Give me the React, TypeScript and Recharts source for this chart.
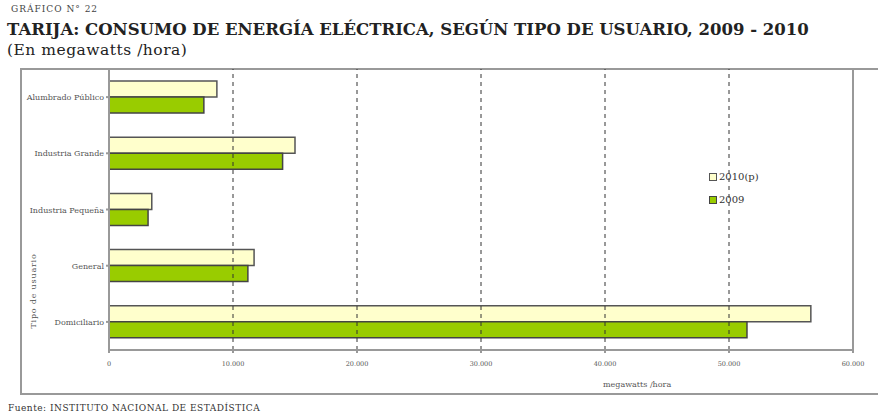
import React from "react";
import {
  BarChart,
  Bar,
  XAxis,
  YAxis,
  ReferenceLine,
} from "recharts";

const categorias = [
  "Alumbrado Público",
  "Industria Grande",
  "Industria Pequeña",
  "General",
  "Domiciliario",
];
const valores2010 = [8700, 15000, 3450, 11700, 56600];
const valores2009 = [7650, 14000, 3150, 11200, 51450];
const ticksX = [0, 10000, 20000, 30000, 40000, 50000, 60000];
const lineasGuia = [10000, 20000, 30000, 40000, 50000];

const data = categorias.map((c, i) => ({
  name: c,
  v2010: valores2010[i],
  v2009: valores2009[i],
}));

const fmt = (v: number) => (v === 0 ? "0" : v.toLocaleString("de-DE"));

const serif = "'DejaVu Serif', 'Liberation Serif', serif";

const CategoriaTick = ({ x, y, payload }: any) => (
  <text
    x={x}
    y={y}
    dy={3}
    textAnchor="end"
    fontSize={8}
    fill="#555"
    fontFamily={serif}
  >
    {payload.value}
  </text>
);

export default function App() {
  return (
    <div
      style={{
        position: "absolute",
        left: 0,
        top: 0,
        width: 878,
        height: 419,
        background: "#fff",
        fontFamily: serif,
        overflow: "hidden",
      }}
    >
      <div
        style={{
          position: "absolute",
          left: 11,
          top: 4,
          fontSize: 9,
          letterSpacing: 1,
          color: "#444",
        }}
      >
        GRÁFICO N° 22
      </div>
      <div
        style={{
          position: "absolute",
          left: 7,
          top: 20,
          fontSize: 16.5,
          fontWeight: "bold",
          color: "#222",
          whiteSpace: "nowrap",
        }}
      >
        TARIJA: CONSUMO DE ENERGÍA ELÉCTRICA, SEGÚN TIPO DE USUARIO, 2009 - 2010
      </div>
      <div
        style={{
          position: "absolute",
          left: 7,
          top: 41,
          fontSize: 15.5,
          letterSpacing: 0.5,
          color: "#222",
        }}
      >
        (En megawatts /hora)
      </div>

      <div
        style={{
          position: "absolute",
          left: 20,
          top: 68,
          width: 870,
          height: 323,
          borderTop: "2px solid #999",
          borderLeft: "2px solid #999",
          borderBottom: "2px solid #999",
        }}
      />

      <div style={{ position: "absolute", left: 20, top: 69 }}>
        <BarChart
          width={858}
          height={324}
          data={data}
          layout="vertical"
          margin={{ top: 0, right: 25, bottom: 23, left: 0 }}
          barGap={0}
          barSize={16}
        >
          <XAxis
            type="number"
            domain={[0, 60000]}
            ticks={ticksX}
            tickFormatter={fmt}
            stroke="#999"
            strokeWidth={2}
            tickSize={3}
            tickMargin={8}
            tick={{ fontSize: 6.5, fill: "#555", fontFamily: serif }}
            height={20}
          />
          <YAxis
            type="category"
            dataKey="name"
            width={89}
            stroke="#999"
            strokeWidth={2}
            tickSize={3}
            tick={<CategoriaTick />}
          />
          {lineasGuia.map((v) => (
            <ReferenceLine key={v} x={v} stroke="#333" strokeDasharray="4 4" />
          ))}
          <ReferenceLine x={60000} stroke="#999" strokeWidth={2} />
          <Bar
            dataKey="v2010"
            fill="#FFFFCC"
            stroke="#555"
            strokeWidth={1.5}
            isAnimationActive={false}
          />
          <Bar
            dataKey="v2009"
            fill="#99CC00"
            stroke="#444"
            strokeWidth={1.5}
            isAnimationActive={false}
          />
        </BarChart>
      </div>

      <div
        style={{
          position: "absolute",
          left: 33,
          top: 291,
          transform: "translate(-50%, -50%) rotate(-90deg)",
          fontSize: 8,
          letterSpacing: 0.8,
          color: "#555",
          whiteSpace: "nowrap",
        }}
      >
        Tipo de usuario
      </div>
      <div
        style={{
          position: "absolute",
          left: 603,
          top: 380,
          fontSize: 8,
          color: "#555",
          whiteSpace: "nowrap",
        }}
      >
        megawatts /hora
      </div>

      <div style={{ position: "absolute", left: 709, top: 171, fontSize: 10, color: "#333" }}>
        <div style={{ display: "flex", alignItems: "center", marginBottom: 12 }}>
          <span
            style={{
              display: "inline-block",
              width: 6,
              height: 6,
              background: "#FFFFCC",
              border: "1.5px solid #555",
              marginRight: 2,
            }}
          />
          2010(p)
        </div>
        <div style={{ display: "flex", alignItems: "center" }}>
          <span
            style={{
              display: "inline-block",
              width: 6,
              height: 6,
              background: "#99CC00",
              border: "1.5px solid #444",
              marginRight: 2,
            }}
          />
          2009
        </div>
      </div>

      <div
        style={{
          position: "absolute",
          left: 8,
          top: 403,
          fontSize: 9,
          letterSpacing: 0.5,
          color: "#333",
          whiteSpace: "nowrap",
        }}
      >
        Fuente: INSTITUTO NACIONAL DE ESTADÍSTICA
      </div>
    </div>
  );
}
